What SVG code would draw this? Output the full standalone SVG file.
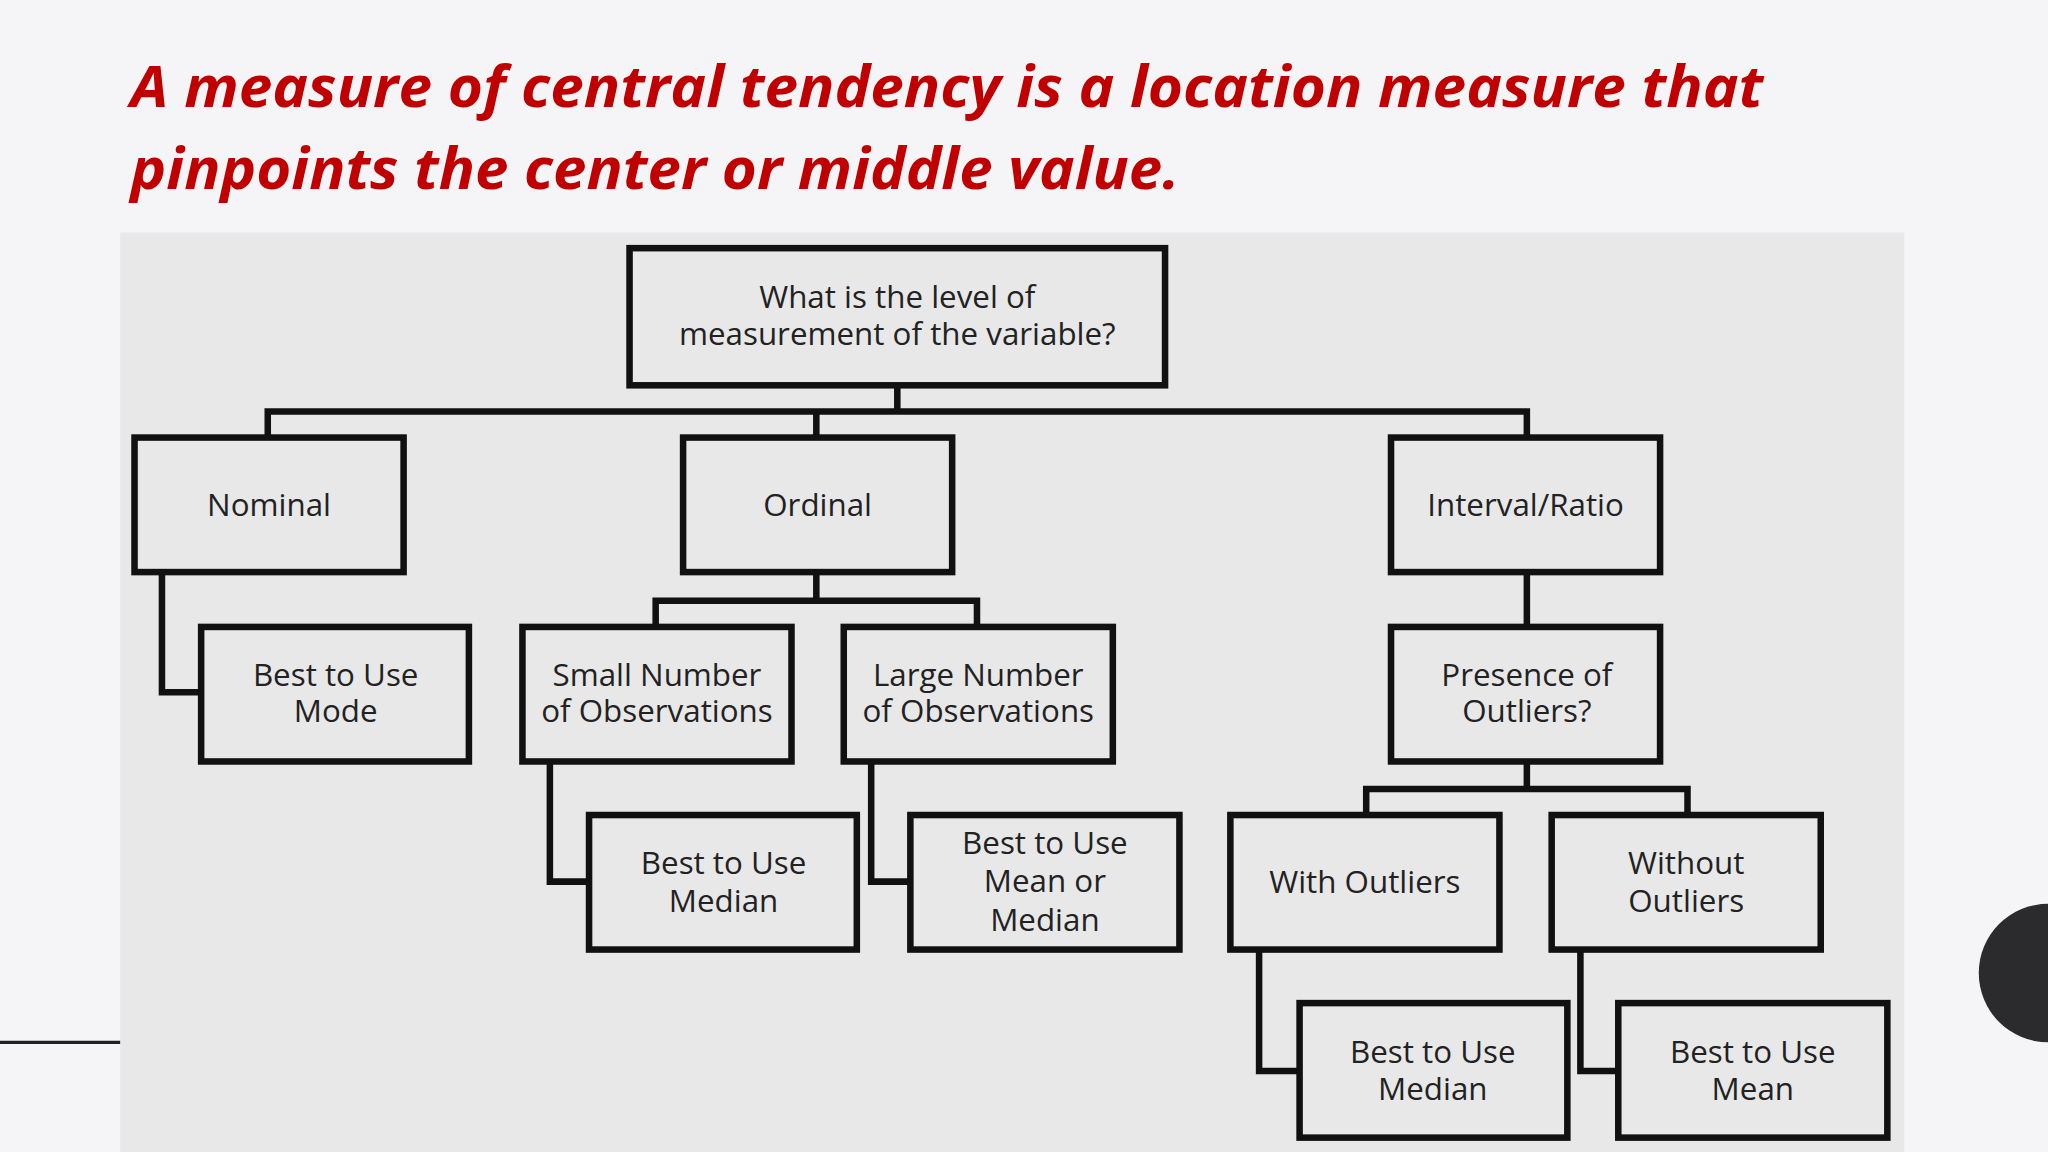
<svg xmlns="http://www.w3.org/2000/svg" width="2048" height="1152" viewBox="0 0 2048 1152">
<style>
.b{fill:none;stroke:#111;stroke-width:5}
.c{fill:none;stroke:#111;stroke-width:5}
.t{font-family:"Open Sans","Liberation Sans",sans-serif;font-size:24px;fill:#222;text-anchor:middle}
.h{font-family:"Open Sans","Liberation Sans",sans-serif;font-size:44px;font-style:italic;font-weight:bold;fill:#c00000}
</style>
<rect width="2048" height="1152" fill="#f5f5f7"/>
<g transform="scale(1.306122)">
<rect x="92" y="178" width="1366" height="704" fill="#e8e8e9"/>
<line x1="0" y1="798" x2="92" y2="798" stroke="#222" stroke-width="2.5"/>
<circle cx="1568" cy="745" r="53" fill="#2b2b2d"/>
<text class="h" x="100" y="82" textLength="1250" lengthAdjust="spacingAndGlyphs">A measure of central tendency is a location measure that</text>
<text class="h" x="100" y="145" textLength="803" lengthAdjust="spacingAndGlyphs">pinpoints the center or middle value.</text>
<g id="connectors">
<path class="c" d="M687 295V315M205 335V315H1169V335M625 315V335"/>
<path class="c" d="M124 438V530H154"/>
<path class="c" d="M625 438V460M502 480V460H748V480"/>
<path class="c" d="M421 583V675H451M667 583V675H697"/>
<path class="c" d="M1169 438V480M1169 583V604M1046 624V604H1292V624"/>
<path class="c" d="M964 727V820H995M1210 727V820H1239"/>
</g>
<g id="n0"><rect class="b" x="482" y="190" width="410" height="105"/><text class="t" x="687" y="236">What is the level of</text><text class="t" x="687" y="264">measurement of the variable?</text></g>
<g id="n1"><rect class="b" x="103" y="335" width="206" height="103"/><text class="t" x="206" y="395">Nominal</text></g>
<g id="n2"><rect class="b" x="523" y="335" width="206" height="103"/><text class="t" x="626" y="395">Ordinal</text></g>
<g id="n3"><rect class="b" x="1065" y="335" width="206" height="103"/><text class="t" x="1168" y="395">Interval/Ratio</text></g>
<g id="n4"><rect class="b" x="154" y="480" width="205" height="103"/><text class="t" x="257" y="525">Best to Use</text><text class="t" x="257" y="553">Mode</text></g>
<g id="n5"><rect class="b" x="400" y="480" width="206" height="103"/><text class="t" x="503" y="525">Small Number</text><text class="t" x="503" y="553">of Observations</text></g>
<g id="n6"><rect class="b" x="646" y="480" width="206" height="103"/><text class="t" x="749" y="525">Large Number</text><text class="t" x="749" y="553">of Observations</text></g>
<g id="n7"><rect class="b" x="1065" y="480" width="206" height="103"/><text class="t" x="1169" y="525">Presence of</text><text class="t" x="1169" y="553">Outliers?</text></g>
<g id="n8"><rect class="b" x="451" y="624" width="205" height="103"/><text class="t" x="554" y="669">Best to Use</text><text class="t" x="554" y="698">Median</text></g>
<g id="n9"><rect class="b" x="697" y="624" width="206" height="103"/><text class="t" x="800" y="654">Best to Use</text><text class="t" x="800" y="683">Mean or</text><text class="t" x="800" y="713">Median</text></g>
<g id="n10"><rect class="b" x="942" y="624" width="206" height="103"/><text class="t" x="1045" y="684">With Outliers</text></g>
<g id="n11"><rect class="b" x="1188" y="624" width="206" height="103"/><text class="t" x="1291" y="669">Without</text><text class="t" x="1291" y="698">Outliers</text></g>
<g id="n12"><rect class="b" x="995" y="768" width="205" height="103"/><text class="t" x="1097" y="814">Best to Use</text><text class="t" x="1097" y="842">Median</text></g>
<g id="n13"><rect class="b" x="1239" y="768" width="206" height="103"/><text class="t" x="1342" y="814">Best to Use</text><text class="t" x="1342" y="842">Mean</text></g>
</g>
</svg>
